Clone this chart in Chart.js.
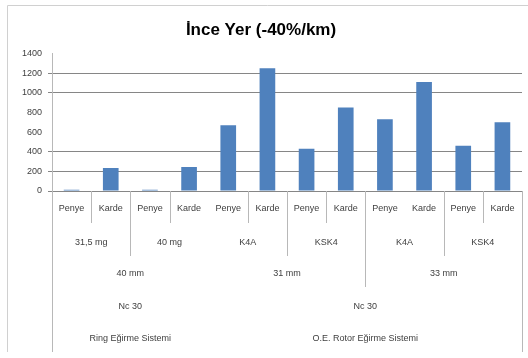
<!DOCTYPE html>
<html lang="tr">
<head>
    <meta charset="UTF-8">
    <title>İnce Yer</title>
    <style>
        html, body { margin: 0; padding: 0; background: #fff; }
        .kutu { position: relative; width: 528px; height: 358px; }
    </style>
</head>
<body>
    <div class="kutu">
        <canvas id="ince-chart" width="528" height="358"></canvas>
    </div>

    <script src="https://cdn.jsdelivr.net/npm/chart.js"></script>
    <script>
        // veriler
        const categories = ['Penye', 'Karde', 'Penye', 'Karde', 'Penye', 'Karde', 'Penye', 'Karde', 'Penye', 'Karde', 'Penye', 'Karde'];
        const values = [12, 235, 12, 245, 670, 1250, 430, 850, 730, 1110, 460, 700];
        const yTicks = [0, 200, 400, 600, 800, 1000, 1200, 1400];
        const level2Labels = ['31,5 mg', '40 mg', 'K4A', 'KSK4', 'K4A', 'KSK4'];
        const level2Spans = [2, 2, 2, 2, 2, 2];
        const level3Labels = ['40 mm', '31 mm', '33 mm'];
        const level3Spans = [4, 4, 4];
        const level4Labels = ['Nc 30', 'Nc 30'];
        const level4Spans = [4, 8];
        const level5Labels = ['Ring Eğirme Sistemi', 'O.E. Rotor Eğirme Sistemi'];
        const level5Spans = [4, 8];

        // only these gridlines show in the original picture
        const shownGrid = [0, 200, 400, 1000, 1200];
        // dividers that are missing in the original picture
        const hiddenDividers = [4, 9];

        const FONT = "'Liberation Sans', Arial, sans-serif";
        const TEXT = '#404040';

        const levels = [
            { labels: level2Labels, spans: level2Spans, y: 243, depth: 256 },
            { labels: level3Labels, spans: level3Spans, y: 274, depth: 287 },
            { labels: level4Labels, spans: level4Spans, y: 307, depth: 352 },
            { labels: level5Labels, spans: level5Spans, y: 339, depth: 352 }
        ];

        function boundaryDepth(k) {
            if (k === 0 || k === categories.length) return 352;
            let depth = 223;
            levels.forEach(lv => {
                let pos = 0;
                lv.spans.forEach(s => {
                    pos += s;
                    if (pos === k) depth = Math.max(depth, lv.depth);
                });
            });
            return depth;
        }

        const hierarchyPlugin = {
            id: 'hierarchy',
            beforeDraw(chart) {
                const ctx = chart.ctx;
                ctx.save();
                ctx.strokeStyle = '#d0d0d0';
                ctx.lineWidth = 1;
                ctx.beginPath();
                ctx.moveTo(7.5, 352);
                ctx.lineTo(7.5, 5.5);
                ctx.lineTo(528, 5.5);
                ctx.stroke();
                ctx.restore();
            },
            afterDraw(chart) {
                const ctx = chart.ctx;
                const x = chart.scales.x;
                const area = chart.chartArea;
                const half = (x.getPixelForValue(1) - x.getPixelForValue(0)) / 2;
                const edge = k => k === 0 ? area.left : (k === categories.length ? area.right : x.getPixelForValue(k) - half);

                ctx.save();
                // dividers
                ctx.strokeStyle = '#b8b8b8';
                ctx.lineWidth = 1;
                for (let k = 0; k <= categories.length; k++) {
                    if (hiddenDividers.includes(k)) continue;
                    const px = Math.round(edge(k)) + 0.5;
                    ctx.beginPath();
                    ctx.moveTo(px, area.bottom);
                    ctx.lineTo(px, boundaryDepth(k));
                    ctx.stroke();
                }

                // labels
                ctx.fillStyle = TEXT;
                ctx.font = '9px ' + FONT;
                ctx.textAlign = 'center';
                ctx.textBaseline = 'middle';
                categories.forEach((c, i) => {
                    ctx.fillText(c, x.getPixelForValue(i), 209);
                });
                levels.forEach(lv => {
                    let pos = 0;
                    lv.labels.forEach((lab, j) => {
                        const a = edge(pos);
                        const b = edge(pos + lv.spans[j]);
                        ctx.fillText(lab, (a + b) / 2, lv.y);
                        pos += lv.spans[j];
                    });
                });
                ctx.restore();
            }
        };

        const ctx = document.getElementById('ince-chart').getContext('2d');
        new Chart(ctx, {
            type: 'bar',
            data: {
                labels: categories,
                datasets: [{
                    data: values,
                    backgroundColor: '#4F81BD',
                    borderWidth: 0,
                    barPercentage: 0.4,
                    categoryPercentage: 1.0
                }]
            },
            options: {
                responsive: false,
                animation: false,
                layout: { padding: { top: 0, left: 0, right: 6, bottom: 0 } },
                plugins: {
                    legend: { display: false },
                    tooltip: { enabled: false },
                    title: {
                        display: true,
                        text: 'İnce Yer (-40%/km)',
                        color: '#000',
                        font: { family: FONT, size: 17, weight: 'bold', lineHeight: 1.2 },
                        padding: { top: 20, bottom: 13 }
                    }
                },
                scales: {
                    x: {
                        grid: { display: false },
                        border: { display: true, color: '#868686' },
                        ticks: { display: false },
                        afterFit(scale) { scale.height = 167; }
                    },
                    y: {
                        min: 0,
                        max: 1400,
                        afterBuildTicks(scale) {
                            scale.ticks = yTicks.map(v => ({ value: v }));
                        },
                        grid: {
                            color: c => shownGrid.includes(c.tick.value) ? '#868686' : 'rgba(0,0,0,0)',
                            tickLength: 4
                        },
                        border: { display: true, color: '#b8b8b8' },
                        ticks: {
                            padding: 6,
                            color: TEXT,
                            font: { family: FONT, size: 9 },
                            callback: v => String(v)
                        },
                        afterFit(scale) { scale.width = 52; }
                    }
                }
            },
            plugins: [hierarchyPlugin]
        });
    </script>
</body>
</html>
